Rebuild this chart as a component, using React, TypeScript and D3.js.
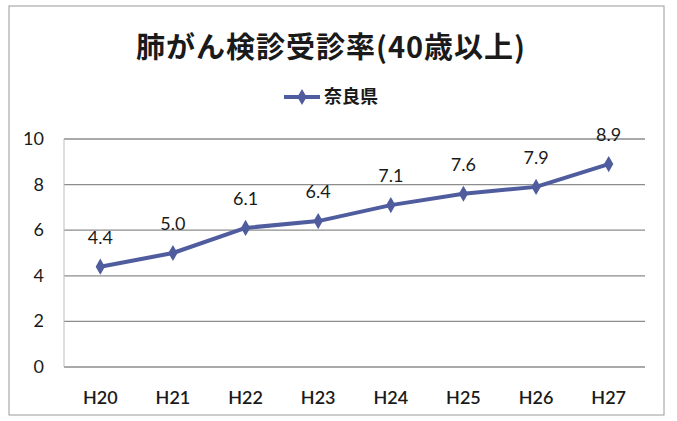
import { useMemo } from "react";
import * as d3 from "d3";

const years = ["H20", "H21", "H22", "H23", "H24", "H25", "H26", "H27"];
const naraRates = [4.4, 5.0, 6.1, 6.4, 7.1, 7.6, 7.9, 8.9];
const yTicks = [0, 2, 4, 6, 8, 10];

const title = "肺がん検診受診率(40歳以上)";
const seriesName = "奈良県";
const lineColor = "#4f5c9e";

const W = 677;
const H = 421;
const plot = { left: 64, right: 645, top: 139, bottom: 367 };

export default function App() {
  const { x, y, linePath } = useMemo(() => {
    const x = d3
      .scaleBand<string>()
      .domain(years)
      .range([plot.left, plot.right]);
    const y = d3
      .scaleLinear()
      .domain([0, 10])
      .range([plot.bottom, plot.top]);
    const linePath = d3
      .line<number>()
      .x((_d, i) => (x(years[i]) ?? 0) + x.bandwidth() / 2)
      .y((d) => y(d))(naraRates);
    return { x, y, linePath };
  }, []);

  const diamond = d3.symbol().type(d3.symbolDiamond).size(75)();
  const labelFont = "Lato, 'Open Sans', sans-serif";

  return (
    <svg
      width={W}
      height={H}
      style={{ position: "absolute", left: 0, top: 0, background: "#fff" }}
    >
      <rect x={9} y={6} width={655} height={409} fill="#fff" stroke="#9a9a9a" strokeWidth={1} />

      <text
        x={331}
        y={58}
        textAnchor="middle"
        fontFamily="'Noto Sans CJK JP', sans-serif"
        fontWeight="bold"
        fontSize={29}
        letterSpacing={1}
        fill="#1a1a1a"
      >
        {title}
      </text>

      {/* legend */}
      <g transform="translate(284,97)">
        <line x1={0} x2={36} y1={0} y2={0} stroke={lineColor} strokeWidth={4} />
        <path d={diamond} transform="translate(18,0)" fill={lineColor} />
        <text
          x={40}
          y={6}
          fontFamily="'Noto Sans CJK JP', sans-serif"
          fontWeight="bold"
          fontSize={18}
          fill="#1a1a1a"
        >
          {seriesName}
        </text>
      </g>

      {/* grid */}
      {yTicks.map((t) => (
        <g key={t}>
          <line
            x1={plot.left}
            x2={plot.right}
            y1={y(t)}
            y2={y(t)}
            stroke="#8c8c8c"
            strokeWidth={1.3}
          />
          <text
            x={44}
            y={y(t) + 6}
            textAnchor="end"
            fontFamily={labelFont}
            fontSize={18}
            fill="#1a1a1a"
          >
            {t}
          </text>
        </g>
      ))}
      <line x1={plot.left} x2={plot.left} y1={plot.top} y2={plot.bottom} stroke="#bdbdbd" />

      {years.map((yr) => (
        <text
          key={yr}
          x={(x(yr) ?? 0) + x.bandwidth() / 2}
          y={404}
          textAnchor="middle"
          fontFamily={labelFont}
          fontWeight={600}
          fontSize={18}
          fill="#1a1a1a"
        >
          {yr}
        </text>
      ))}

      <path d={linePath ?? ""} fill="none" stroke={lineColor} strokeWidth={4} strokeLinejoin="round" />
      {naraRates.map((v, i) => {
        const cx = (x(years[i]) ?? 0) + x.bandwidth() / 2;
        return (
          <g key={i}>
            <path d={diamond} transform={`translate(${cx},${y(v)})`} fill={lineColor} />
            <text
              x={cx}
              y={y(v) - 23}
              textAnchor="middle"
              fontFamily={labelFont}
              fontSize={18}
              fill="#1a1a1a"
            >
              {v.toFixed(1)}
            </text>
          </g>
        );
      })}
    </svg>
  );
}
